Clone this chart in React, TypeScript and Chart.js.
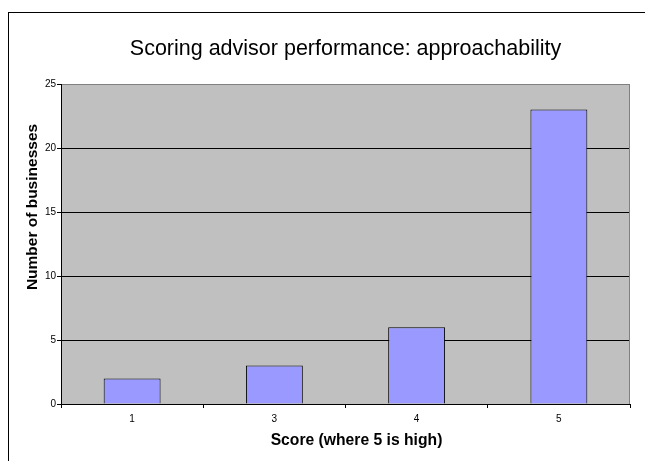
import React, { useEffect, useRef } from 'react';
import { Chart, registerables } from 'chart.js';

Chart.register(...registerables);

const categories = ['1', '3', '4', '5'];
const businesses = [2, 3, 6, 23];
const yMin = 0;
const yMax = 25;
const yStep = 5;
const chartTitle = 'Scoring advisor performance: approachability';
const xAxisTitle = 'Score (where 5 is high)';
const yAxisTitle = 'Number of businesses';

const FONT = "'Liberation Sans', Arial, sans-serif";
// offsets of the axis titles from the plot centre (layout only)
const X_TITLE_SHIFT = 11;
const Y_TITLE_SHIFT = -37;

export default function App() {
  const ref = useRef<HTMLCanvasElement>(null);

  useEffect(() => {
    if (!ref.current) return;

    const plotDecor = {
      id: 'plotDecor',
      beforeDraw(chart: any) {
        const { ctx, chartArea } = chart;
        const { left, top, right, bottom } = chartArea;
        ctx.save();
        ctx.fillStyle = '#C0C0C0';
        ctx.fillRect(left, top, right - left, bottom - top);
        ctx.restore();
      },
      afterDraw(chart: any) {
        const { ctx, chartArea } = chart;
        const { top, right, bottom } = chartArea;
        ctx.save();
        ctx.strokeStyle = '#808080';
        ctx.lineWidth = 1;
        ctx.beginPath();
        ctx.moveTo(Math.round(right) - 0.5, top);
        ctx.lineTo(Math.round(right) - 0.5, bottom);
        ctx.stroke();
        ctx.restore();
      },
      afterLayout(chart: any) {
        const t = chart.titleBlock;
        if (t) {
          t.left = chart.chartArea.left;
          t.right = chart.chartArea.right;
        }
        const sx = chart.scales.x;
        if (sx && !sx.__shifted) {
          sx.__shifted = true;
          const orig = sx.drawTitle;
          sx.drawTitle = function (...args: any[]) {
            const l = this.left;
            const r = this.right;
            this.left = l + X_TITLE_SHIFT;
            this.right = r + X_TITLE_SHIFT;
            orig.apply(this, args);
            this.left = l;
            this.right = r;
          };
        }
        const sy = chart.scales.y;
        if (sy && !sy.__shifted) {
          sy.__shifted = true;
          const orig = sy.drawTitle;
          sy.drawTitle = function (...args: any[]) {
            const tp = this.top;
            const bt = this.bottom;
            this.top = tp + Y_TITLE_SHIFT;
            this.bottom = bt + Y_TITLE_SHIFT;
            orig.apply(this, args);
            this.top = tp;
            this.bottom = bt;
          };
        }
      },
    };

    const chart = new Chart(ref.current, {
      type: 'bar',
      data: {
        labels: categories,
        datasets: [
          {
            data: businesses,
            backgroundColor: '#9999FF',
            borderColor: '#000000',
            borderWidth: 1,
            barPercentage: 0.4,
            categoryPercentage: 1,
          },
        ],
      },
      options: {
        responsive: false,
        animation: false,
        maintainAspectRatio: false,
        layout: { padding: { left: 0, right: 15, top: 0, bottom: 0 } },
        plugins: {
          legend: { display: false },
          tooltip: { enabled: false },
          title: {
            display: true,
            text: chartTitle,
            color: '#000',
            font: { family: FONT, size: 21.5, weight: 'normal', lineHeight: 1.2 },
            padding: { top: 36.5, bottom: 21.7 },
          },
        },
        scales: {
          x: {
            afterFit(scale: any) {
              scale.height = 57;
            },
            grid: {
              drawOnChartArea: false,
              drawTicks: true,
              tickLength: 4,
              tickColor: '#000',
              offset: true,
            },
            border: { color: '#000', width: 1 },
            ticks: {
              color: '#000',
              font: { family: FONT, size: 10 },
              padding: 5,
            },
            title: {
              display: true,
              text: xAxisTitle,
              color: '#000',
              font: { family: FONT, size: 15.7, weight: 'bold', lineHeight: 1.2 },
              padding: { top: 0, bottom: 11 },
            },
          },
          y: {
            min: yMin,
            max: yMax,
            afterFit(scale: any) {
              scale.width = 61;
            },
            grid: {
              color: (ctx: any) => (ctx.tick && ctx.tick.value === yMax ? '#808080' : '#000'),
              tickColor: '#000',
              drawTicks: true,
              tickLength: 4,
              lineWidth: 1,
            },
            border: { color: '#000', width: 1 },
            ticks: {
              stepSize: yStep,
              color: '#000',
              font: { family: FONT, size: 10 },
              padding: 1,
            },
            title: {
              display: true,
              text: yAxisTitle,
              color: '#000',
              font: { family: FONT, size: 15.5, weight: 'bold', lineHeight: 1.2 },
              padding: { top: 23, bottom: 0 },
            },
          },
        },
      },
      plugins: [plotDecor],
    } as any);

    return () => chart.destroy();
  }, []);

  return (
    <div
      style={{
        position: 'absolute',
        left: 0,
        top: 0,
        width: 645,
        height: 461,
        overflow: 'hidden',
        background: '#fff',
      }}
    >
      <div
        style={{
          position: 'absolute',
          left: 8,
          top: 12,
          width: 800,
          height: 600,
          borderLeft: '1px solid #000',
          borderTop: '1px solid #000',
        }}
      />
      <canvas
        ref={ref}
        width={645}
        height={461}
        style={{ position: 'absolute', left: 0, top: 0, width: 645, height: 461 }}
      />
    </div>
  );
}
